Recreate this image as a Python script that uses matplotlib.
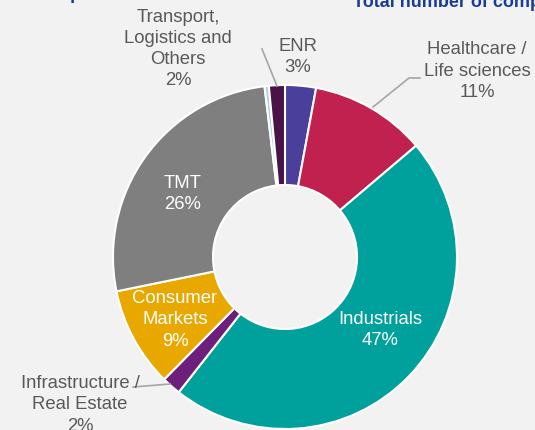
import matplotlib
matplotlib.use("Agg")
import matplotlib.pyplot as plt

sectors = ["ENR", "Healthcare / Life sciences", "Industrials", "Infrastructure / Real Estate",
           "Consumer Markets", "TMT", "Other", "Transport, Logistics and Others"]
shares = [2.9, 10.9, 46.8, 1.8, 9.4, 26.3, 0.4, 1.5]
colors = ["#4b3f9c", "#c0214f", "#00a19c", "#6d1f7b", "#e9a800", "#7f7f7f", "#a9d3e6", "#4a1347"]
pct_labels = ["3%", "11%", "47%", "2%", "9%", "26%", "", "2%"]

W, H = 535, 431
bg = "#f2f2f2"
plt.rcParams["font.family"] = ["Liberation Sans", "DejaVu Sans"]
fig = plt.figure(figsize=(W / 100, H / 100), dpi=100, facecolor=bg)
ax = fig.add_axes([0, 0, 1, 1])
ax.set_facecolor(bg)

def Y(y):
    return H - y

ax.pie(shares, colors=colors, startangle=90, counterclock=False,
       center=(285, Y(258)), radius=172, frame=True,
       wedgeprops=dict(width=100, edgecolor="white", linewidth=1.5))
ax.set_xlim(0, W)
ax.set_ylim(0, H)
ax.set_aspect("equal")
ax.axis("off")

fs = 13.3
ls = 1.33
grey = "#595959"
# inside labels
ax.text(183, Y(194), "TMT\n" + pct_labels[5], color="white", fontsize=fs, ha="center", va="center", linespacing=ls)
ax.text(175, Y(320), "Consumer\nMarkets\n" + pct_labels[4], color="white", fontsize=fs, ha="center", va="center", linespacing=ls)
ax.text(380, Y(330), "Industrials\n" + pct_labels[2], color="white", fontsize=fs, ha="center", va="center", linespacing=ls)
# outside labels
ax.text(298, Y(57), "ENR\n" + pct_labels[0], color=grey, fontsize=fs, ha="center", va="center", linespacing=ls)
ax.text(477, Y(71), "Healthcare /\nLife sciences\n" + pct_labels[1], color=grey, fontsize=fs, ha="center", va="center", linespacing=ls)
ax.text(178, Y(49), "Transport,\nLogistics and\nOthers\n" + pct_labels[7], color=grey, fontsize=fs, ha="center", va="center", linespacing=ls)
ax.text(80, Y(405), "Infrastructure /\nReal Estate\n" + pct_labels[3], color=grey, fontsize=fs, ha="center", va="center", linespacing=ls)

# leader lines
lc = "#a6a6a6"
ax.plot([373, 409, 420], [Y(108), Y(79), Y(79)], color=lc, lw=1.2)
ax.plot([277, 262], [Y(87), Y(50)], color=lc, lw=1.2)
ax.plot([133, 170], [Y(388), Y(385)], color=lc, lw=1.2)

# cropped titles (cut by the top edge as in the source)
blue = "#1a3c96"
ax.text(353, Y(7), "Total number of companies", color=blue, fontsize=13, fontweight="bold", ha="left", va="baseline")
ax.text(11, Y(-1), "of companies", color=blue, fontsize=13, fontweight="bold", ha="left", va="baseline")

fig.savefig("out.png", dpi=100, facecolor=bg)
